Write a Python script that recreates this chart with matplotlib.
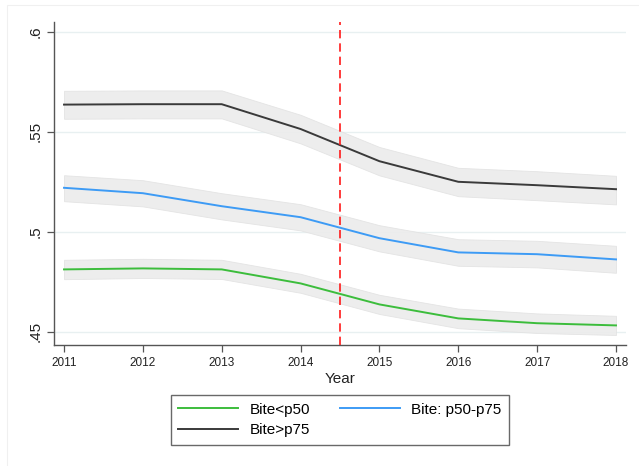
import matplotlib
matplotlib.use("Agg")
import matplotlib.pyplot as plt
from matplotlib.patches import Rectangle

plt.rcParams['font.family'] = ['Liberation Sans', 'DejaVu Sans']

years = [2011, 2012, 2013, 2014, 2015, 2016, 2017, 2018]

low_mean = [0.4812, 0.4817, 0.4812, 0.4742, 0.4637, 0.4567, 0.4543, 0.4532]
low_lo   = [0.4763, 0.4769, 0.4764, 0.4695, 0.4589, 0.4518, 0.4494, 0.4484]
low_hi   = [0.4860, 0.4865, 0.4860, 0.4790, 0.4685, 0.4616, 0.4592, 0.4580]

mid_mean = [0.5220, 0.5193, 0.5128, 0.5073, 0.4968, 0.4897, 0.4888, 0.4862]
mid_lo   = [0.5153, 0.5127, 0.5062, 0.5007, 0.4902, 0.4830, 0.4822, 0.4795]
mid_hi   = [0.5283, 0.5258, 0.5193, 0.5138, 0.5033, 0.4963, 0.4955, 0.4930]

high_mean = [0.5636, 0.5638, 0.5638, 0.5514, 0.5353, 0.5250, 0.5233, 0.5213]
high_lo   = [0.5565, 0.5567, 0.5567, 0.5442, 0.5282, 0.5178, 0.5158, 0.5137]
high_hi   = [0.5705, 0.5707, 0.5707, 0.5585, 0.5424, 0.5320, 0.5303, 0.5280]

labels = ["Bite<p50", "Bite: p50-p75", "Bite>p75"]
colors = ["#3cbd3c", "#3d9bf5", "#3a3a3a"]
y_ticks = [0.45, 0.5, 0.55, 0.6]
y_tick_labels = [".45", ".5", ".55", ".6"]
policy_year = 2014.5

fig = plt.figure(figsize=(6.39, 4.66), dpi=100)
fig.patch.set_facecolor("white")
# faint outer graph-region border
fig.patches.append(Rectangle((7 / 639, -0.1), 2, 1.1 - 5 / 466, transform=fig.transFigure,
                             fill=False, edgecolor="#f0f0f0", linewidth=0.8))

ax = fig.add_axes([54 / 639, 1 - 345 / 466, (626 - 54) / 639, (345 - 22) / 466])

series = [(low_mean, low_lo, low_hi), (mid_mean, mid_lo, mid_hi), (high_mean, high_lo, high_hi)]
handles = []
for (m, lo, hi), lab, col in zip(series, labels, colors):
    ax.fill_between(years, lo, hi, facecolor="#ececec", edgecolor="#e2e2e2",
                    linewidth=0.6, alpha=0.9, zorder=2)
    h, = ax.plot(years, m, color=col, linewidth=1.4, zorder=3, label=lab)
    handles.append(h)

ax.axvline(policy_year, color="#ff1a1a", linestyle=(0, (5, 3)), linewidth=1.2, zorder=4)

ax.set_xlim(2010.873, 2018.127)
ax.set_ylim(0.4434, 0.6049)
ax.set_xticks(years)
ax.set_xticklabels([str(y) for y in years], fontsize=8.5)
ax.set_yticks(y_ticks)
ax.set_yticklabels(y_tick_labels, fontsize=11, rotation=90, va="center")
ax.yaxis.grid(True, color="#e8f0f1", linewidth=1.0, zorder=0)
ax.set_axisbelow(True)
for s in ["top", "right"]:
    ax.spines[s].set_visible(False)
for s in ["left", "bottom"]:
    ax.spines[s].set_color("#555555")
    ax.spines[s].set_linewidth(1.0)
ax.tick_params(axis="both", length=5, width=0.9, color="#555555", labelcolor="#222222")
ax.tick_params(axis="x", pad=4)
ax.tick_params(axis="y", pad=3)
ax.set_xlabel("Year", fontsize=11, color="#222222", labelpad=2)

order = [0, 2, 1]
leg = fig.legend([handles[i] for i in order], [labels[i] for i in order],
                 loc="center", bbox_to_anchor=(340 / 639, 1 - 420 / 466), ncol=2,
                 fontsize=11, frameon=True, fancybox=False, handlelength=3.9,
                 columnspacing=2.0, labelspacing=0.45, borderpad=0.5, handletextpad=0.75)
leg.get_frame().set_edgecolor("#444444")
leg.get_frame().set_linewidth(1.0)

fig.savefig("out.png", dpi=100, facecolor="white")
